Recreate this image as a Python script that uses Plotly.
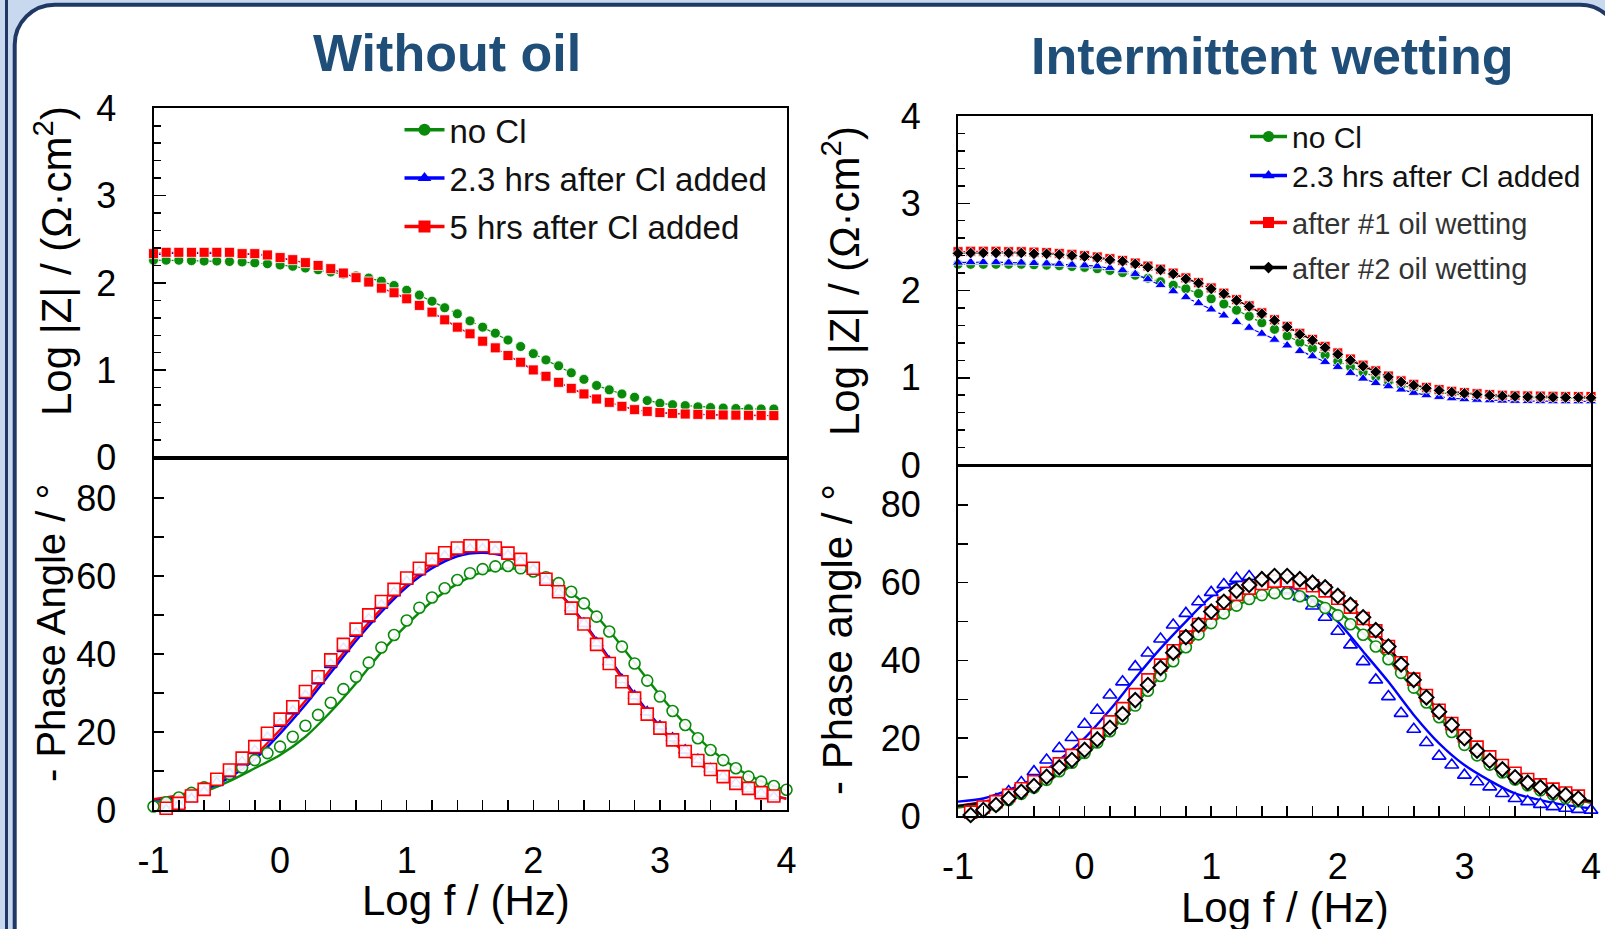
import plotly.graph_objects as go

W, H = 1605, 929
FONT = "Liberation Sans, Arial, sans-serif"

# ---------------- data ----------------
LOG_F = [-1.0, -0.9, -0.8, -0.7, -0.6, -0.5, -0.4, -0.3, -0.2, -0.1,
         0.0, 0.1, 0.2, 0.3, 0.4, 0.5, 0.6, 0.7, 0.8, 0.9,
         1.0, 1.1, 1.2, 1.3, 1.4, 1.5, 1.6, 1.7, 1.8, 1.9,
         2.0, 2.1, 2.2, 2.3, 2.4, 2.5, 2.6, 2.7, 2.8, 2.9,
         3.0, 3.1, 3.2, 3.3, 3.4, 3.5, 3.6, 3.7, 3.8, 3.9, 4.0]
FIT_F = [-1.0, -0.8, -0.6, -0.4, -0.2, 0.0, 0.2, 0.4, 0.6, 0.8, 1.0, 1.2, 1.4,
         1.6, 1.8, 2.0, 2.2, 2.4, 2.6, 2.8, 3.0, 3.2, 3.4, 3.6, 3.8, 4.0]

X_TICKS = [-1, 0, 1, 2, 3, 4]
X_TICK_TEXT = ["-1", "0", "1", "2", "3", "4"]

# Without oil : log|Z|
ZL_GREEN = [2.26, 2.26, 2.26, 2.255, 2.25, 2.25, 2.245, 2.24, 2.23, 2.22,
            2.205, 2.19, 2.17, 2.15, 2.125, 2.10, 2.08, 2.055, 2.02, 1.97,
            1.915, 1.86, 1.79, 1.715, 1.646, 1.565, 1.493, 1.424, 1.345, 1.271,
            1.19, 1.118, 1.05, 0.97, 0.895, 0.825, 0.775, 0.728, 0.69, 0.652,
            0.622, 0.605, 0.594, 0.58, 0.572, 0.566, 0.561, 0.558, 0.556, 0.555, None]
ZL_BLUE = [2.32, 2.335, 2.34, 2.34, 2.34, 2.34, 2.335, 2.33, 2.325, 2.31,
           2.285, 2.262, 2.23, 2.197, 2.16, 2.11, 2.058, 2.005, 1.94, 1.885,
           1.815, 1.74, 1.662, 1.575, 1.49, 1.413, 1.33, 1.252, 1.165, 1.088,
           1.0, 0.928, 0.86, 0.79, 0.727, 0.67, 0.632, 0.585, 0.548, 0.527,
           0.513, 0.503, 0.496, 0.492, 0.488, 0.485, 0.483, 0.481, 0.48, 0.478, None]
ZL_RED = [2.335, 2.35, 2.35, 2.35, 2.35, 2.35, 2.35, 2.335, 2.335, 2.32,
          2.29, 2.266, 2.232, 2.20, 2.163, 2.113, 2.06, 2.01, 1.94, 1.887,
          1.818, 1.742, 1.665, 1.577, 1.493, 1.417, 1.332, 1.256, 1.168, 1.091,
          1.003, 0.93, 0.861, 0.792, 0.728, 0.67, 0.632, 0.586, 0.548, 0.528,
          0.515, 0.505, 0.498, 0.494, 0.49, 0.487, 0.485, 0.483, 0.482, 0.48, None]

# Without oil : -phase
PL_GREEN = [0.9, 2.0, 3.2, 4.4, 5.8, 7.4, 9.2, 10.9, 12.8, 14.6,
            16.25, 18.8, 21.6, 24.4, 27.5, 31.0, 34.2, 37.8, 41.7, 44.9,
            48.6, 51.9, 54.5, 56.9, 59.0, 60.75, 61.8, 62.5, 62.6, 62.0,
            61.2, 59.7, 58.2, 56.0, 53.0, 49.6, 45.8, 41.9, 37.6, 33.2,
            29.1, 25.4, 21.8, 18.4, 15.4, 12.8, 10.7, 8.55, 7.27, 6.16, 5.2]
PL_BLUE = [None, 0.0, 1.2, 2.9, 4.6, 7.0, 9.3, 12.3, 15.2, 18.6,
           22.2, 25.4, 29.3, 33.1, 37.3, 41.4, 45.3, 49.0, 52.5, 55.7,
           58.6, 61.1, 63.4, 65.1, 66.3, 66.9, 67.0, 66.5, 65.3, 63.8,
           61.6, 58.9, 55.8, 51.8, 47.8, 42.8, 38.0, 33.4, 29.2, 25.1,
           21.5, 18.4, 15.3, 12.9, 10.5, 8.6, 6.8, 5.4, 4.2, 3.3, None]
PL_RED = [None, 0.44, 1.71, 3.6, 5.3, 7.87, 10.27, 13.3, 16.25, 19.7,
          23.3, 26.5, 30.4, 34.2, 38.5, 42.5, 46.4, 50.05, 53.5, 56.6,
          59.5, 62.0, 64.3, 66.0, 67.2, 67.8, 67.8, 67.2, 65.9, 64.3,
          62.0, 59.2, 56.0, 51.8, 47.7, 42.5, 37.6, 32.9, 28.7, 24.6,
          21.0, 18.0, 15.0, 12.7, 10.4, 8.56, 6.84, 5.56, 4.45, 3.6, None]
FL_GREEN = [2.0, 3.0, 4.7, 7.4, 10.7, 14.1, 18.8, 25.2, 32.5, 40.5, 47.5, 53.5, 58.0,
            61.0, 62.0, 61.0, 58.0, 53.0, 46.0, 37.8, 29.5, 22.0, 15.6, 10.8, 7.4, 5.1]
FL_BLUE = [2.6, 3.4, 5.2, 8.3, 13.0, 19.6, 27.0, 35.2, 43.4, 50.8, 57.2, 62.0, 65.1,
           66.0, 64.9, 61.5, 55.9, 48.1, 38.9, 29.7, 21.5, 15.0, 10.2, 6.7, 4.4, 2.9]
FL_RED = [2.8, 3.8, 5.8, 9.0, 14.0, 20.6, 28.0, 36.2, 44.3, 51.6, 57.9, 62.7, 65.7,
          66.5, 65.2, 61.6, 55.8, 47.8, 38.5, 29.2, 21.0, 14.6, 9.9, 6.5, 4.3, 2.9]

# Intermittent wetting : log|Z|
ZR_GREEN = [2.30, 2.30, 2.30, 2.30, 2.30, 2.30, 2.295, 2.29, 2.285, 2.275,
            2.265, 2.25, 2.23, 2.205, 2.175, 2.14, 2.10, 2.06, 2.02, 1.965,
            1.905, 1.845, 1.775, 1.705, 1.63, 1.555, 1.48, 1.405, 1.335, 1.26,
            1.19, 1.125, 1.065, 1.01, 0.96, 0.915, 0.88, 0.85, 0.83, 0.812,
            0.80, 0.79, 0.783, 0.778, 0.775, 0.772, 0.77, 0.768, 0.767, 0.766, 0.765]
ZR_BLUE = [2.32, 2.325, 2.325, 2.325, 2.32, 2.32, 2.315, 2.31, 2.305, 2.295,
           2.288, 2.278, 2.259, 2.232, 2.19, 2.13, 2.062, 1.992, 1.924, 1.855,
           1.783, 1.714, 1.638, 1.573, 1.505, 1.436, 1.371, 1.306, 1.246, 1.181,
           1.124, 1.055, 0.99, 0.94, 0.903, 0.865, 0.827, 0.80, 0.78, 0.765,
           0.755, 0.748, 0.742, 0.738, 0.735, 0.733, 0.732, 0.731, 0.73, 0.73, 0.73]
ZR_RED = [2.445, 2.45, 2.45, 2.45, 2.445, 2.445, 2.44, 2.435, 2.425, 2.415,
          2.40, 2.385, 2.365, 2.345, 2.315, 2.28, 2.245, 2.20, 2.145, 2.09,
          2.03, 1.97, 1.895, 1.825, 1.745, 1.665, 1.59, 1.51, 1.44, 1.36,
          1.285, 1.215, 1.145, 1.08, 1.02, 0.965, 0.925, 0.89, 0.865, 0.845,
          0.83, 0.818, 0.808, 0.80, 0.795, 0.792, 0.79, 0.788, 0.786, 0.785, 0.785]
ZR_BLACK = [2.426, 2.43, 2.43, 2.43, 2.43, 2.43, 2.42, 2.42, 2.41, 2.40,
            2.389, 2.374, 2.351, 2.335, 2.305, 2.267, 2.236, 2.19, 2.133, 2.084,
            2.019, 1.962, 1.886, 1.817, 1.733, 1.657, 1.581, 1.497, 1.429, 1.345,
            1.269, 1.20, 1.131, 1.067, 1.009, 0.952, 0.914, 0.88, 0.855, 0.835,
            0.82, 0.808, 0.797, 0.79, 0.785, 0.78, 0.778, 0.775, 0.773, 0.772, 0.77]

# Intermittent wetting : -phase
PR_GREEN = [None, 0.3, 1.5, 2.7, 4.1, 5.7, 7.3, 9.3, 11.5, 13.7,
            16.2, 18.9, 21.8, 25.0, 28.4, 32.2, 36.0, 39.8, 43.4, 46.7,
            49.6, 52.1, 54.1, 55.8, 56.8, 57.3, 57.2, 56.5, 55.2, 53.5,
            51.6, 49.3, 46.6, 43.6, 40.3, 36.8, 33.0, 29.2, 25.4, 21.6,
            18.3, 15.6, 13.2, 11.2, 9.4, 7.9, 6.6, 5.5, 4.6, 3.8, None]
PR_BLUE = [None, 0.5, 2.3, 4.2, 6.3, 8.6, 11.4, 14.4, 17.4, 20.2,
           23.6, 27.2, 31.1, 34.5, 38.4, 41.9, 45.5, 49.1, 52.1, 55.1,
           57.5, 59.5, 61.1, 61.6, 61.2, 60.0, 58.2, 56.3, 54.0, 51.1,
           47.5, 44.0, 39.7, 35.0, 30.7, 26.4, 22.3, 18.9, 15.4, 13.1,
           10.5, 8.8, 7.5, 5.8, 4.5, 3.7, 3.0, 2.4, 2.0, 1.7, 1.5]
PR_RED = [None, 1.0, 2.3, 3.7, 5.3, 7.0, 8.8, 11.0, 13.4, 15.6,
          18.2, 21.0, 24.2, 27.6, 31.2, 35.0, 38.8, 42.5, 46.0, 49.2,
          52.2, 54.7, 57.0, 58.6, 59.8, 60.4, 60.5, 60.0, 59.2, 57.9,
          56.0, 53.7, 50.8, 47.6, 43.6, 39.4, 35.2, 31.0, 27.2, 23.8,
          20.6, 17.7, 15.2, 13.0, 11.0, 9.4, 8.0, 6.9, 5.9, 5.1, None]
PR_BLACK = [None, 0.26, 1.54, 2.83, 4.5, 6.25, 7.7, 10.1, 12.5, 14.4,
            17.0, 19.7, 22.7, 26.2, 29.8, 33.7, 38.1, 42.0, 46.0, 49.1,
            52.6, 55.1, 57.9, 59.4, 60.9, 61.7, 61.7, 60.9, 60.0, 58.8,
            56.6, 54.3, 51.1, 47.8, 43.6, 39.0, 35.0, 30.5, 26.8, 23.4,
            20.0, 16.8, 14.2, 12.0, 9.95, 8.57, 7.37, 6.25, 5.4, 4.5, None]
FR_GREEN = [2.2, 3.1, 4.4, 7.0, 10.8, 15.6, 21.6, 28.6, 36.0, 43.2, 49.4, 54.0, 56.6,
            57.2, 56.0, 52.6, 47.0, 40.2, 32.6, 25.3, 18.8, 13.6, 9.6, 6.8, 4.8, 3.4]
FR_BLUE = [3.7, 4.5, 6.7, 9.7, 14.4, 20.0, 27.3, 35.4, 43.1, 50.0, 56.4, 60.3, 61.1,
           59.4, 55.6, 50.0, 42.3, 34.5, 26.0, 18.7, 13.1, 9.1, 5.8, 4.1, 2.8, 2.0]
FR_RED = [2.6, 3.7, 5.1, 7.8, 11.9, 16.9, 23.0, 30.3, 38.4, 45.8, 52.1, 56.8, 59.6,
          60.4, 59.2, 56.0, 50.6, 43.4, 35.0, 27.0, 20.3, 14.8, 10.6, 7.6, 5.4, 3.6]
FR_BLACK = [2.6, 3.5, 4.8, 7.5, 11.5, 16.3, 22.3, 29.5, 37.8, 45.5, 52.3, 57.3, 60.3,
            61.2, 59.8, 56.4, 50.8, 43.4, 34.8, 26.6, 19.8, 14.2, 10.0, 7.2, 5.2, 3.8]

NAMES_L = ["no Cl", "2.3 hrs after Cl added", "5 hrs after Cl added"]
NAMES_R = ["no Cl", "2.3 hrs after Cl added", "after #1 oil wetting", "after #2 oil wetting"]

GREEN, BLUE, RED, BLACK = "#0A8A0A", "#0000FF", "#FF0000", "#000000"
NAVY = "#1F3864"
TITLE_BLUE = "#1F4E79"


def px(x):
    return x / W


def py(y):
    return 1 - y / H


fig = go.Figure()


def zpts(x, y, color, symbol, size, xa, ya):
    fig.add_trace(go.Scatter(
        x=x, y=y, mode="lines+markers", xaxis=xa, yaxis=ya, showlegend=False,
        cliponaxis=False, hoverinfo="skip",
        line=dict(color=color, width=1.2, dash="dash"),
        marker=dict(symbol=symbol, size=size, color=color,
                    line=dict(color="white", width=0.8))))


def fit(x, y, color, xa, ya):
    fig.add_trace(go.Scatter(
        x=x, y=y, mode="lines", xaxis=xa, yaxis=ya, showlegend=False,
        line=dict(color=color, width=2.4, shape="spline", smoothing=0.8),
        hoverinfo="skip"))


def opts(x, y, color, symbol, size, xa, ya, lw=1.6):
    fig.add_trace(go.Scatter(
        x=x, y=y, mode="markers", xaxis=xa, yaxis=ya, showlegend=False,
        cliponaxis=False, hoverinfo="skip",
        marker=dict(symbol=symbol, size=size, color="rgba(255,255,255,0.9)",
                    line=dict(color=color, width=lw))))


def legend_item(name, color, symbol, size, legend, xa, ya, group):
    fig.add_trace(go.Scatter(
        x=[None], y=[None], mode="lines+markers", name=name, legend=legend,
        legendgroup=group, xaxis=xa, yaxis=ya,
        line=dict(color=color, width=3.5),
        marker=dict(symbol=symbol, size=size, color=color)))


# ---- Without oil, |Z|
zpts(LOG_F, ZL_GREEN, GREEN, "circle", 10, "x", "y")
zpts(LOG_F, ZL_BLUE, BLUE, "triangle-up", 10, "x", "y")
zpts(LOG_F, ZL_RED, RED, "square", 10, "x", "y")
# ---- Without oil, phase
fit(FIT_F, FL_GREEN, GREEN, "x2", "y2")
fit(FIT_F, FL_BLUE, BLUE, "x2", "y2")
fit(FIT_F, FL_RED, RED, "x2", "y2")
opts(LOG_F, PL_GREEN, GREEN, "circle", 11, "x2", "y2")
opts(LOG_F, PL_BLUE, BLUE, "triangle-up", 11, "x2", "y2")
opts(LOG_F, PL_RED, RED, "square", 12, "x2", "y2")

# ---- Intermittent wetting, |Z|
zpts(LOG_F, ZR_GREEN, GREEN, "circle", 10, "x3", "y3")
zpts(LOG_F, ZR_BLUE, BLUE, "triangle-up", 10, "x3", "y3")
zpts(LOG_F, ZR_RED, RED, "square", 10, "x3", "y3")
zpts(LOG_F, ZR_BLACK, BLACK, "diamond", 9, "x3", "y3")
# ---- Intermittent wetting, phase
fit(FIT_F, FR_GREEN, GREEN, "x4", "y4")
fit(FIT_F, FR_BLUE, BLUE, "x4", "y4")
fit(FIT_F, FR_RED, RED, "x4", "y4")
fit(FIT_F, FR_BLACK, BLACK, "x4", "y4")
opts(LOG_F, PR_BLUE, BLUE, "triangle-up", 12, "x4", "y4")
opts(LOG_F, PR_GREEN, GREEN, "circle", 11, "x4", "y4")
opts(LOG_F, PR_RED, RED, "square", 12, "x4", "y4")
opts(LOG_F, PR_BLACK, BLACK, "diamond", 11, "x4", "y4", lw=2)

# legends
legend_item(NAMES_L[0], GREEN, "circle", 12, "legend", "x", "y", "a")
legend_item(NAMES_L[1], BLUE, "triangle-up", 12, "legend", "x", "y", "b")
legend_item(NAMES_L[2], RED, "square", 12, "legend", "x", "y", "c")
legend_item(NAMES_R[0], GREEN, "circle", 11, "legend2", "x3", "y3", "d")
legend_item(NAMES_R[1], BLUE, "triangle-up", 11, "legend3", "x3", "y3", "e")
legend_item(NAMES_R[2], RED, "square", 11, "legend4", "x3", "y3", "f")
legend_item(NAMES_R[3], BLACK, "diamond", 9, "legend5", "x3", "y3", "g")

tickfont = dict(family=FONT, size=36, color="black")
frame = dict(showline=True, linecolor="black", linewidth=2, mirror=True,
             showgrid=False, zeroline=False, automargin=False)


def xa_top(dom, anchor):
    return dict(domain=dom, anchor=anchor, range=[-1, 4], showticklabels=False,
                ticks="", **frame)


def xa_bot(dom, anchor):
    return dict(domain=dom, anchor=anchor, range=[-1, 4], tickvals=X_TICKS,
                ticktext=X_TICK_TEXT, ticks="inside", ticklen=10, tickwidth=1.5,
                tickcolor="black", tickfont=tickfont, ticklabelstandoff=18,
                minor=dict(ticks="inside", dtick=0.2, ticklen=10, tickwidth=1.5,
                           tickcolor="black"),
                **frame)


def ya_top(dom, anchor):
    return dict(domain=dom, anchor=anchor, range=[0, 4], dtick=1, ticks="inside",
                ticklen=12, tickwidth=1.5, tickcolor="black", tickfont=tickfont,
                ticklabelstandoff=28,
                minor=dict(ticks="inside", dtick=0.2, ticklen=7, tickwidth=1.5,
                           tickcolor="black"),
                **frame)


def ya_bot(dom, anchor, top):
    return dict(domain=dom, anchor=anchor, range=[0, top], dtick=20, ticks="inside",
                ticklen=10, tickwidth=1.5, tickcolor="black", tickfont=tickfont,
                ticklabelstandoff=28,
                minor=dict(ticks="inside", dtick=10, ticklen=10, tickwidth=1.5,
                           tickcolor="black"),
                **frame)


XL = [px(153.5), px(786.5)]
XR = [px(958), px(1591)]

# decorative slide frame
L, T, R, B, r = 14.7, 4.7, 1620.0, 960.0, 40.0
k = 0.5523
path = (f"M {px(L)},{py(B)} L {px(L)},{py(T + r)} "
        f"C {px(L)},{py(T + r - k * r)} {px(L + r - k * r)},{py(T)} {px(L + r)},{py(T)} "
        f"L {px(R - r)},{py(T)} "
        f"C {px(R - r + k * r)},{py(T)} {px(R)},{py(T + r - k * r)} {px(R)},{py(T + r)} "
        f"L {px(R)},{py(B)} Z")
shapes = [
    dict(type="path", path=path, xref="paper", yref="paper", layer="below",
         fillcolor="white", line=dict(color=NAVY, width=4)),
    dict(type="line", xref="paper", yref="paper", x0=px(6.5), x1=px(6.5), y0=-0.05, y1=1.05,
         layer="below", line=dict(color=NAVY, width=3)),
]

ann_font = dict(family=FONT, size=42, color="black")
annotations = [
    dict(text="<b>Without oil</b>", x=px(447), y=py(53), xref="paper", yref="paper",
         showarrow=False, xanchor="center", yanchor="middle",
         font=dict(family=FONT, size=52, color=TITLE_BLUE)),
    dict(text="<b>Intermittent wetting</b>", x=px(1272), y=py(56), xref="paper", yref="paper",
         showarrow=False, xanchor="center", yanchor="middle",
         font=dict(family=FONT, size=52, color=TITLE_BLUE)),
    dict(text="Log |Z| / (Ω·cm<sup>2</sup>)", x=px(53), y=py(261), xref="paper", yref="paper",
         showarrow=False, textangle=-90, xanchor="center", yanchor="middle", font=ann_font),
    dict(text="- Phase Angle / °", x=px(51), y=py(633), xref="paper", yref="paper",
         showarrow=False, textangle=-90, xanchor="center", yanchor="middle",
         font=dict(family=FONT, size=40, color="black")),
    dict(text="Log f / (Hz)", x=px(466), y=py(900), xref="paper", yref="paper",
         showarrow=False, xanchor="center", yanchor="middle", font=ann_font),
    dict(text="Log |Z| / (Ω·cm<sup>2</sup>)", x=px(841), y=py(281), xref="paper", yref="paper",
         showarrow=False, textangle=-90, xanchor="center", yanchor="middle", font=ann_font),
    dict(text="- Phase angle / °", x=px(837), y=py(640), xref="paper", yref="paper",
         showarrow=False, textangle=-90, xanchor="center", yanchor="middle", font=ann_font),
    dict(text="Log f / (Hz)", x=px(1285), y=py(907), xref="paper", yref="paper",
         showarrow=False, xanchor="center", yanchor="middle", font=ann_font),
]


def one_legend(top, size, color):
    return dict(x=px(1245), y=py(top), xanchor="left", yanchor="top",
                bgcolor="rgba(0,0,0,0)", borderwidth=0, itemwidth=37,
                font=dict(family=FONT, size=size, color=color))


fig.update_layout(
    width=W, height=H, margin=dict(l=0, r=0, t=0, b=0, pad=0, autoexpand=False),
    paper_bgcolor="#C8D8EF", plot_bgcolor="white",
    font=dict(family=FONT, color="black"),
    shapes=shapes, annotations=annotations,
    xaxis=xa_top(XL, "y"),
    yaxis=ya_top([py(457.5), py(108.3)], "x"),
    xaxis2=xa_bot(XL, "y2"),
    yaxis2=ya_bot([py(810), py(458)], "x2", 90.3),
    xaxis3=xa_top(XR, "y3"),
    yaxis3=ya_top([py(465), py(116)], "x3"),
    xaxis4=xa_bot(XR, "y4"),
    yaxis4=ya_bot([py(816), py(466)], "x4", 90.0),
    legend=dict(x=px(399.5), y=py(101.7), xanchor="left", yanchor="top",
                bgcolor="rgba(0,0,0,0)", borderwidth=0, itemwidth=40,
                traceorder="grouped", tracegroupgap=2.5,
                font=dict(family=FONT, size=33, color="#111111")),
    legend2=one_legend(110.5, 30, "#111111"),
    legend3=one_legend(149.5, 30, "#111111"),
    legend4=one_legend(197.2, 29, "#333333"),
    legend5=one_legend(242.2, 29, "#333333"),
    hovermode=False,
)

fig.write_html("out.html",
               config={"displayModeBar": False, "staticPlot": True},
               post_script="document.body.style.margin='0';document.body.style.padding='0';"
                           "document.body.style.overflow='hidden';")
